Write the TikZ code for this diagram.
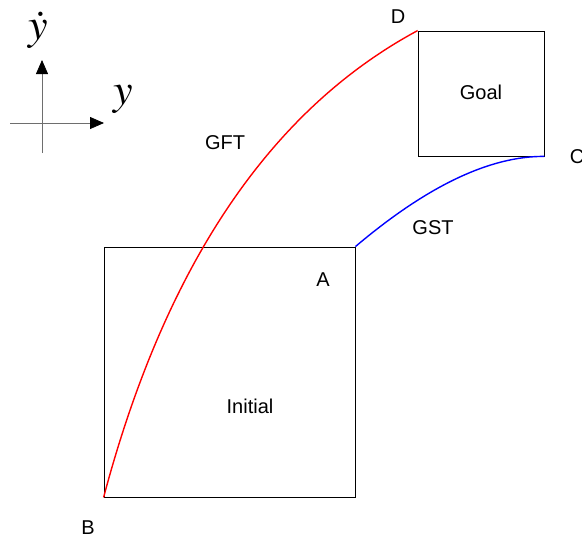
\documentclass[tikz,border=0pt]{standalone}
\usepackage{mathptmx}
\usepackage{fontspec}
\setmainfont{Liberation Sans}
\usepackage{tikz}
\usetikzlibrary{positioning,arrows.meta}
\definecolor{axisg}{HTML}{6E6E6E}
\tikzset{
  region/.style={draw=black, line width=0.8pt, fill=none, inner sep=0pt},
  pt/.style={font=\fontsize{20}{20}\selectfont, inner sep=0pt},
  axis/.style={-{Triangle[length=14pt,width=12pt,color=black]}, draw=axisg, line width=0.8pt},
  axlbl/.style={font=\fontsize{44}{44}\selectfont, inner sep=0pt},
  traj/.style={line width=1.4pt},
}
\begin{document}
\begin{tikzpicture}[x=1pt, y=-1pt]
\useasboundingbox (0,0) rectangle (582,539);

% phase plane axes
\coordinate (xs) at (10,123);
\coordinate (xe) at (104,123);
\coordinate (ys) at (42,153);
\coordinate (ye) at (42,60);
\draw[axis] (xs) -- (xe);
\draw[axis] (ys) -- (ye);
\node[axlbl] (ydot) at (38,30) {$\dot{y}$};
\node[axlbl] (yax) at (123,99) {$y$};

% initial and goal sets
\node[region, minimum width=251pt, minimum height=250pt] (init) at (229.5,372) {};
\node[region, minimum width=126pt, minimum height=125pt] (goal) at (481,93.5) {};
\node[pt] (initlbl) at (250,406) {Initial};
\node[pt] (goallbl) at (481,92) {Goal};

% trajectories
\draw[traj, red] (init.south west) .. controls (165,266) and (270,110) .. (goal.north west);
\draw[traj, blue] (init.north east) .. controls (427,186) and (490,156) .. (goal.south east);

% labels
\node[pt] (lA) at (323,280) {A};
\node[pt] (lB) at (88,528) {B};
\node[pt] (lC) at (577,157) {C};
\node[pt] (lD) at (398,17) {D};
\node[pt] (gft) at (225,143) {GFT};
\node[pt] (gst) at (433,228) {GST};
\end{tikzpicture}
\end{document}
